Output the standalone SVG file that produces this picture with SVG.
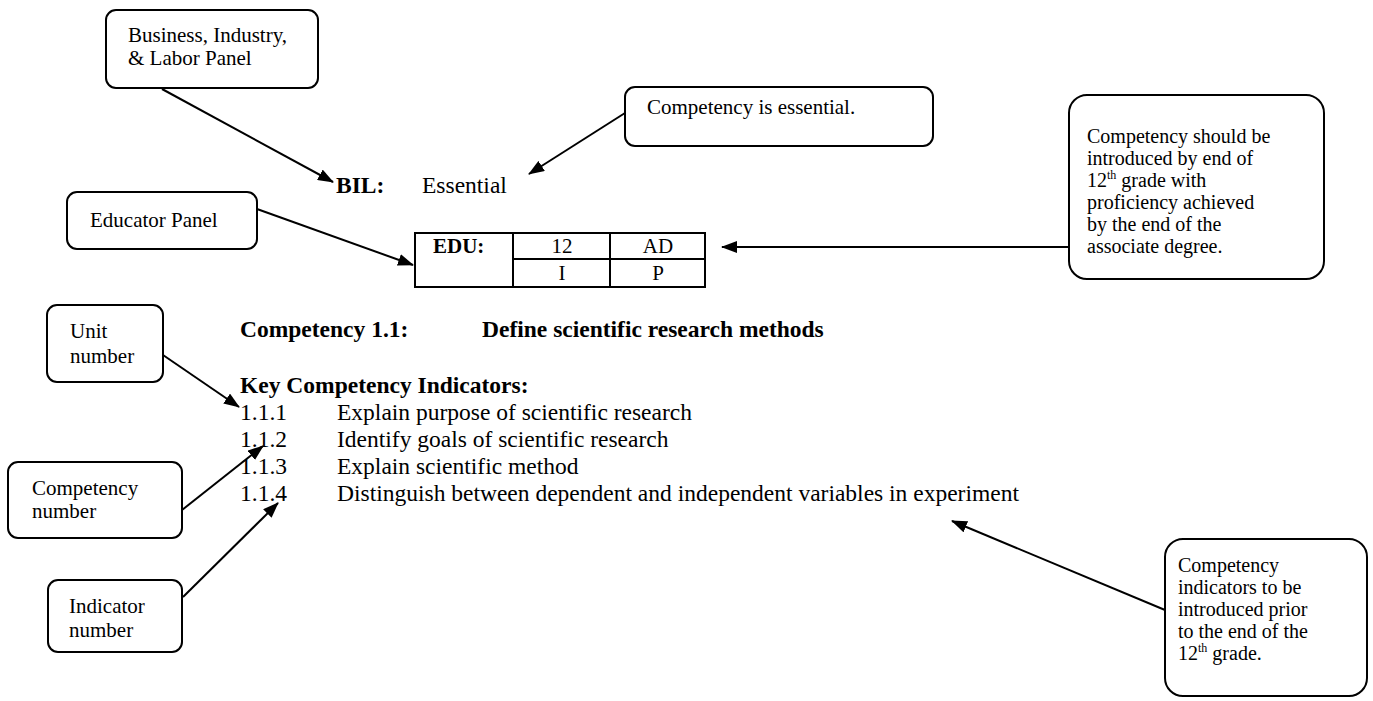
<svg xmlns="http://www.w3.org/2000/svg" width="1373" height="701" viewBox="0 0 1373 701">
<style>
text{font-family:"Liberation Serif","Times New Roman",serif;font-size:21px;fill:#000}
.body{font-size:23.5px}
.note{font-size:20px}
.b{font-weight:bold}
.box{fill:#fff;stroke:#000;stroke-width:2}
.cell{fill:none;stroke:#000;stroke-width:2}
.con line{stroke:#000;stroke-width:2;marker-end:url(#ah)}
</style>
<defs>
<marker id="ah" markerUnits="userSpaceOnUse" markerWidth="16" markerHeight="12" refX="15" refY="6" orient="auto">
<path d="M0,0 L16,6 L0,12 z" fill="#000"/>
</marker>
</defs>
<rect width="1373" height="701" fill="#fff"/>
<g id="bil-panel"><rect class="box" x="106" y="10" width="212" height="78" rx="10"/><text x="128" y="42">Business, Industry,</text><text x="128" y="65">&amp; Labor Panel</text></g>
<g id="essential-note"><rect class="box" x="625" y="87" width="308" height="59" rx="10"/><text x="647" y="114">Competency is essential.</text></g>
<g id="edu-note"><rect class="box" x="1069" y="95" width="255" height="184" rx="18"/>
<text class="note" x="1087" y="143">Competency should be</text><text class="note" x="1087" y="165">introduced by end of</text><text class="note" x="1087" y="187">12<tspan font-size="12" dy="-8">th</tspan><tspan dy="8"> grade with</tspan></text><text class="note" x="1087" y="209">proficiency achieved</text><text class="note" x="1087" y="231">by the end of the</text><text class="note" x="1087" y="253">associate degree.</text></g>
<g id="bil-rating"><text class="body b" x="336" y="193">BIL:</text><text class="body" x="422" y="193">Essential</text></g>
<g id="educator-panel"><rect class="box" x="67" y="192" width="190" height="57" rx="10"/><text x="90" y="227">Educator Panel</text></g>
<g id="edu-table"><rect class="cell" x="415" y="233" width="290" height="54"/><line class="cell" x1="513" y1="233" x2="513" y2="287"/><line class="cell" x1="610" y1="233" x2="610" y2="287"/><line class="cell" x1="513" y1="259" x2="705" y2="259"/>
<text class="b" x="433" y="253">EDU:</text><text x="562" y="253" text-anchor="middle">12</text><text x="658" y="253" text-anchor="middle">AD</text><text x="562" y="280" text-anchor="middle">I</text><text x="658" y="280" text-anchor="middle">P</text></g>
<g id="unit-number"><rect class="box" x="47" y="305" width="116" height="77" rx="10"/><text x="70" y="338">Unit</text><text x="70" y="363">number</text></g>
<g id="competency"><text class="body b" x="240" y="337">Competency 1.1:</text><text class="body b" x="482" y="337">Define scientific research methods</text>
<text class="body b" x="240" y="393">Key Competency Indicators:</text>
<text class="body" x="240" y="420">1.1.1</text><text class="body" x="337" y="420">Explain purpose of scientific research</text>
<text class="body" x="240" y="447">1.1.2</text><text class="body" x="337" y="447">Identify goals of scientific research</text>
<text class="body" x="240" y="474">1.1.3</text><text class="body" x="337" y="474">Explain scientific method</text>
<text class="body" x="240" y="501">1.1.4</text><text class="body" x="337" y="501">Distinguish between dependent and independent variables in experiment</text></g>
<g id="competency-number"><rect class="box" x="8" y="462" width="174" height="76" rx="10"/><text x="32" y="495">Competency</text><text x="32" y="518">number</text></g>
<g id="indicator-number"><rect class="box" x="48" y="580" width="134" height="72" rx="10"/><text x="69" y="613">Indicator</text><text x="69" y="637">number</text></g>
<g id="indicator-note"><rect class="box" x="1165" y="539" width="202" height="157" rx="18"/>
<text class="note" x="1178" y="572">Competency</text><text class="note" x="1178" y="594">indicators to be</text><text class="note" x="1178" y="616">introduced prior</text><text class="note" x="1178" y="638">to the end of the</text><text class="note" x="1178" y="660">12<tspan font-size="12" dy="-8">th</tspan><tspan dy="8">  grade.</tspan></text></g>
<g class="con" id="connectors">
<line x1="162" y1="89" x2="333" y2="182"/>
<line x1="625" y1="113" x2="529" y2="174"/>
<line x1="257" y1="209" x2="413" y2="265"/>
<line x1="1069" y1="247" x2="722" y2="247"/>
<line x1="163" y1="355" x2="239" y2="407"/>
<line x1="182" y1="510" x2="263" y2="446"/>
<line x1="183" y1="597" x2="278" y2="503"/>
<line x1="1165" y1="610" x2="952" y2="521"/>
</g>
</svg>
